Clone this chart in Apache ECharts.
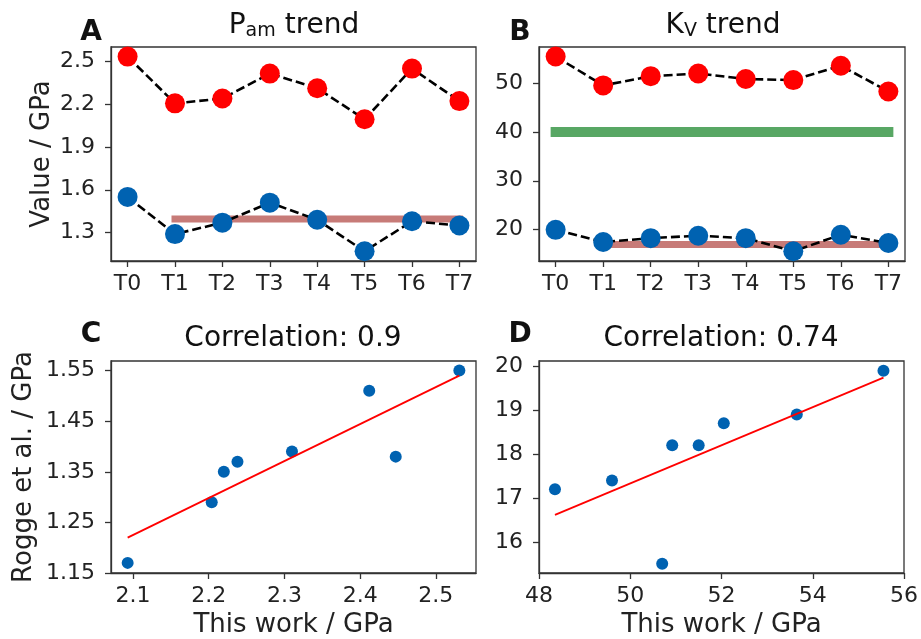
<!DOCTYPE html>
<html>
<head>
<meta charset="utf-8">
<script src="https://cdn.jsdelivr.net/npm/echarts@6/dist/echarts.min.js"></script>
<style>
  html, body { margin: 0; padding: 0; background: #fff; }
  #main { width: 921px; height: 639px; }
</style>
</head>
<body>
<div id="main"></div>
<script>
// 数据
const categories = ['T0', 'T1', 'T2', 'T3', 'T4', 'T5', 'T6', 'T7'];
const pamThisWork = [2.531, 2.204, 2.238, 2.412, 2.31, 2.093, 2.447, 2.22];
const pamRogge = [1.55, 1.29, 1.37, 1.51, 1.39, 1.17, 1.38, 1.35];
const kvThisWork = [55.55, 49.6, 51.5, 52.05, 50.92, 50.7, 53.65, 48.35];
const kvRogge = [19.9, 17.4, 18.2, 18.7, 18.2, 15.5, 18.9, 17.2];
const pamRef = 1.395;   // 粉色参考线
const kvRef = 16.9;     // 粉色参考线
const kvOther = 40;     // 绿色参考线

const pamTicks = [1.3, 1.6, 1.9, 2.2, 2.5];
const kvTicks = [20, 30, 40, 50];
const corrXTicksC = [2.1, 2.2, 2.3, 2.4, 2.5];
const corrYTicksC = [1.15, 1.25, 1.35, 1.45, 1.55];
const corrXTicksD = [48, 50, 52, 54, 56];
const corrYTicksD = [16, 17, 18, 19, 20];

const FONT = 'DejaVu Sans';
const RED = '#ff0000';
const BLUE = '#0062b1';

function fit(xs, ys) {
  // 最小二乘拟合
  let n = xs.length, mx = 0, my = 0;
  xs.forEach((x, i) => { mx += x; my += ys[i]; });
  mx /= n; my /= n;
  let sxy = 0, sxx = 0;
  xs.forEach((x, i) => { sxy += (x - mx) * (ys[i] - my); sxx += (x - mx) * (x - mx); });
  let b = sxy / sxx, a = my - b * mx;
  let x0 = Math.min(...xs), x1 = Math.max(...xs);
  return [[x0, a + b * x0], [x1, a + b * x1]];
}

function axisCommon(ticks, fmt) {
  return {
    type: 'value',
    splitLine: { show: false },
    axisLine: { show: true, onZero: false, lineStyle: { color: '#333', width: 1.3 } },
    axisTick: { show: true, length: 6, customValues: ticks, lineStyle: { color: '#333', width: 1.3 } },
    axisLabel: {
      customValues: ticks,
      color: '#222',
      fontFamily: FONT,
      fontSize: 22,
      formatter: fmt
    },
    nameTextStyle: { fontFamily: FONT, fontSize: 26, color: '#222' }
  };
}

const idx = categories.map((c, i) => i);
const catFmt = (v) => categories[Math.round(v)];

const xAxes = [
  Object.assign(axisCommon(idx, catFmt), { gridIndex: 0, min: -0.35, max: 7.35 }),
  Object.assign(axisCommon(idx, catFmt), { gridIndex: 1, min: -0.35, max: 7.35 }),
  Object.assign(axisCommon(corrXTicksC, (v) => v.toFixed(1)), {
    gridIndex: 2, min: 2.071, max: 2.553, name: 'This work / GPa', nameLocation: 'middle', nameGap: 39
  }),
  Object.assign(axisCommon(corrXTicksD, (v) => String(v)), {
    gridIndex: 3, min: 48, max: 56, name: 'This work / GPa', nameLocation: 'middle', nameGap: 39
  })
];
xAxes.forEach((a) => { a.axisLabel.margin = 12; });

const yAxes = [
  Object.assign(axisCommon(pamTicks, (v) => v.toFixed(1)), {
    gridIndex: 0, min: 1.102, max: 2.598, name: 'Value / GPa', nameLocation: 'middle', nameGap: 56
  }),
  Object.assign(axisCommon(kvTicks, (v) => String(v)), { gridIndex: 1, min: 13.5, max: 57.5 }),
  Object.assign(axisCommon(corrYTicksC, (v) => v.toFixed(2)), {
    gridIndex: 2, min: 1.15, max: 1.569, name: 'Rogge et al. / GPa', nameLocation: 'middle', nameGap: 74
  }),
  Object.assign(axisCommon(corrYTicksD, (v) => String(v)), { gridIndex: 3, min: 15.29, max: 20.12 })
];
yAxes.forEach((a) => { a.axisLabel.margin = 16; });

function trend(values, color, xi) {
  return {
    type: 'line',
    xAxisIndex: xi, yAxisIndex: xi,
    data: values.map((v, i) => [i, v]),
    symbol: 'circle',
    symbolSize: 20,
    itemStyle: { color: color, opacity: 1 },
    lineStyle: { color: '#000', width: 2.6, type: [9, 4] },
    z: 5
  };
}

function refLine(y, x0, x1, color, width, xi) {
  return {
    type: 'line',
    xAxisIndex: xi, yAxisIndex: xi,
    data: [[x0, y], [x1, y]],
    symbol: 'none',
    lineStyle: { color: color, width: width, cap: 'square' },
    z: 2
  };
}

function scatter(xs, ys, xi) {
  return {
    type: 'scatter',
    xAxisIndex: xi, yAxisIndex: xi,
    data: xs.map((x, i) => [x, ys[i]]),
    symbolSize: 12,
    itemStyle: { color: BLUE, opacity: 1 },
    z: 5
  };
}

function regLine(xs, ys, xi) {
  return {
    type: 'line',
    xAxisIndex: xi, yAxisIndex: xi,
    data: fit(xs, ys),
    symbol: 'none',
    lineStyle: { color: RED, width: 1.8 },
    z: 6
  };
}

function label(text, x, y, extra) {
  return {
    type: 'text',
    x: x, y: y,
    style: Object.assign({
      text: text,
      fontFamily: FONT,
      fontSize: 28,
      fill: '#111',
      align: 'center',
      verticalAlign: 'middle'
    }, extra || {})
  };
}

const subRich = {
  a: { fontFamily: FONT, fontSize: 28, color: '#111' },
  s: { fontFamily: FONT, fontSize: 19, color: '#111', padding: [11, 0, 0, 0] }
};

const chart = echarts.init(document.getElementById('main'), null, { renderer: 'canvas' });
chart.setOption({
  animation: false,
  backgroundColor: '#fff',
  grid: [
    { left: 111, top: 47, width: 365, height: 214, show: true, borderColor: '#333', borderWidth: 1.3 },
    { left: 539, top: 47, width: 366, height: 214, show: true, borderColor: '#333', borderWidth: 1.3 },
    { left: 111, top: 361, width: 365, height: 213, show: true, borderColor: '#333', borderWidth: 1.3 },
    { left: 539, top: 361, width: 366, height: 213, show: true, borderColor: '#333', borderWidth: 1.3 }
  ],
  xAxis: xAxes,
  yAxis: yAxes,
  series: [
    refLine(pamRef, 1, 7, '#c77b78', 7, 0),
    trend(pamThisWork, RED, 0),
    trend(pamRogge, BLUE, 0),
    refLine(kvOther, 0, 7, '#58a764', 10, 1),
    refLine(kvRef, 1, 7, '#c77b78', 7, 1),
    trend(kvThisWork, RED, 1),
    trend(kvRogge, BLUE, 1),
    scatter(pamThisWork, pamRogge, 2),
    regLine(pamThisWork, pamRogge, 2),
    scatter(kvThisWork, kvRogge, 3),
    regLine(kvThisWork, kvRogge, 3)
  ],
  graphic: [
    label('A', 91, 33, { fontWeight: 'bold' }),
    label('B', 520, 33, { fontWeight: 'bold' }),
    label('C', 91, 335, { fontWeight: 'bold' }),
    label('D', 520, 335, { fontWeight: 'bold' }),
    label('{a|P}{s|am}{a| trend}', 294, 26, { rich: subRich }),
    label('{a|K}{s|V}{a| trend}', 723, 26, { rich: subRich }),
    label('Correlation: 0.9', 293, 339),
    label('Correlation: 0.74', 721, 339)
  ]
});
</script>
</body>
</html>
